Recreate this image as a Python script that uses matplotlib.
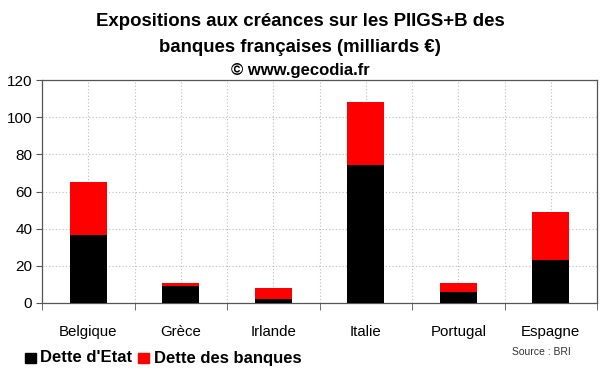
import matplotlib
matplotlib.use("Agg")
import matplotlib.pyplot as plt
import numpy as np
from matplotlib.patches import Rectangle

categories = ["Belgique", "Grèce", "Irlande", "Italie", "Portugal", "Espagne"]
dette_etat = [36.4, 9.3, 2.1, 74.1, 6.1, 23.1]
dette_banques_total = [65.1, 10.9, 8.1, 108.4, 10.6, 48.8]
dette_banques = [t - e for t, e in zip(dette_banques_total, dette_etat)]
yticks = [0, 20, 40, 60, 80, 100, 120]

plt.rcParams['font.family'] = ['Liberation Sans', 'DejaVu Sans']

fig = plt.figure(figsize=(6.0, 3.72), dpi=100)
ax = fig.add_axes([42/600, 1-303/372, 555/600, 223/372])

x = np.arange(len(categories))
ax.bar(x, dette_etat, width=0.40, color="black", zorder=3)
ax.bar(x, dette_banques, width=0.40, bottom=dette_etat, color="#ff0000", zorder=3)

ax.set_xlim(-0.5, len(categories) - 0.5)
ax.set_ylim(0, 120)
ax.set_yticks(yticks)
ax.set_yticklabels([str(v) for v in yticks], fontsize=11)
ax.set_xticks(x)
ax.set_xticklabels(categories, fontsize=10.8)
ax.tick_params(axis='x', length=0, pad=16)
ax.tick_params(axis='y', length=4, direction='out', color='#555555', pad=3)
ax.set_xticks(np.arange(-0.5, len(categories), 1.0), minor=True)
ax.tick_params(axis='x', which='minor', length=5, direction='out', color='#555555')

for v in yticks[1:-1]:
    ax.axhline(v, color='#bbbbbb', lw=0.8, ls=(0, (1, 2)), zorder=1)
for b in np.arange(-0.5, len(categories), 0.5):
    ax.axvline(b, color='#bbbbbb', lw=0.8, ls=(0, (1, 2)), zorder=1)

for s in ax.spines.values():
    s.set_color('#555555')
    s.set_linewidth(0.9)

fig.text(0.5, 1-22/372, "Expositions aux créances sur les PIIGS+B des",
         ha='center', va='center', fontsize=13.4, fontweight='bold')
fig.text(0.5, 1-47/372, "banques françaises (milliards €)",
         ha='center', va='center', fontsize=13.4, fontweight='bold')
fig.text(0.5, 1-70/372, "© www.gecodia.fr",
         ha='center', va='center', fontsize=12, fontweight='bold')

# legend
fig.patches.append(Rectangle((25/600, 1-363/372), 11/600, 10/372,
                             transform=fig.transFigure, color='black'))
fig.text(40/600, 1-358/372, "Dette d'Etat", ha='left', va='center',
         fontsize=12, fontweight='bold')
fig.patches.append(Rectangle((138/600, 1-363/372), 11/600, 10/372,
                             transform=fig.transFigure, color='#ff0000'))
fig.text(154/600, 1-358/372, "Dette des banques", ha='left', va='center',
         fontsize=12, fontweight='bold')
fig.text(512/600, 1-352/372, "Source : BRI", ha='left', va='center',
         fontsize=7.5, color='#333333')

fig.savefig("out.png", dpi=100, facecolor='white')
